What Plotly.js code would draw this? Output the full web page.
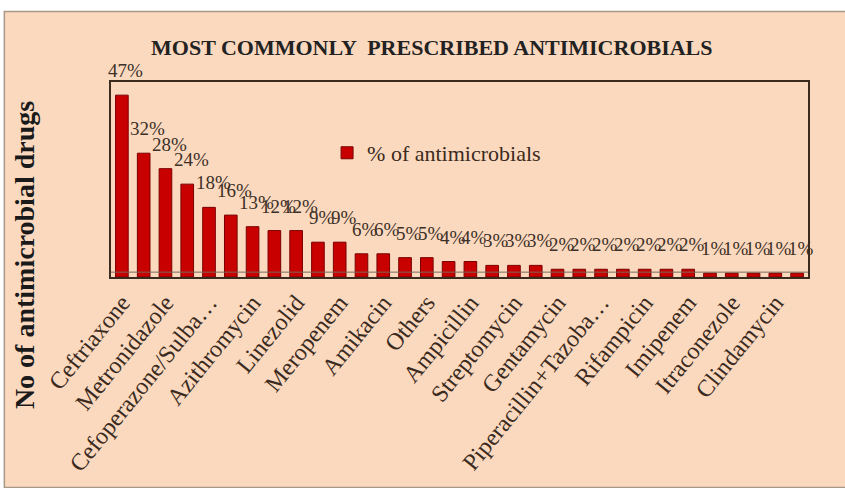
<!DOCTYPE html>
<html>
<head>
<meta charset="utf-8">
<script src="https://cdn.plot.ly/plotly-3.0.1.min.js"></script>
<style>html,body{margin:0;padding:0;background:#fff;}#chart{width:845px;height:488px;}</style>
</head>
<body>
<div id="chart"></div>
<script>
// Bar positions (1..32) and values
var positions = [1,2,3,4,5,6,7,8,9,10,11,12,13,14,15,16,17,18,19,20,21,22,23,24,25,26,27,28,29,30,31,32];
var percentValues = [47,32,28,24,18,16,13,12,12,9,9,6,6,5,5,4,4,3,3,3,2,2,2,2,2,2,2,1,1,1,1,1];
// Only every other category is labelled on the axis
var tickPositions = [1,3,5,7,9,11,13,15,17,19,21,23,25,27,29,31];
var tickLabels = ["Ceftriaxone","Metronidazole","Cefoperazone/Sulba…","Azithromycin","Linezolid","Meropenem","Amikacin","Others","Ampicillin","Streptomycin","Gentamycin","Piperacillin+Tazoba…","Rifampicin","Imipenem","Itraconezole","Clindamycin"];
var seriesName = "% of antimicrobials";
var chartTitle = "MOST COMMONLY  PRESCRIBED ANTIMICROBIALS";
var yTitle = "No of antimicrobial drugs";

var peach = "#FBD9BF";
var serif = "'Liberation Serif', 'Times New Roman', serif";

var trace = {
  type: "bar",
  x: positions,
  y: percentValues,
  name: seriesName,
  marker: {color: "#C80000", line: {color: "#7a0000", width: 1}},
  showlegend: true,
  hoverinfo: "skip"
};

var annotations = percentValues.map(function(v, i){
  return {x: positions[i], y: v, xref: "x", yref: "y", text: v + "%", showarrow: false,
          yanchor: "bottom", xanchor: "center", yshift: 12, xshift: 4,
          font: {family: serif, size: 19, color: "#3d3027"}};
});
annotations.push({xref: "paper", yref: "paper", x: -0.124, y: 0.11, text: "<b>" + yTitle + "</b>",
  textangle: -90, showarrow: false, xanchor: "center", yanchor: "middle",
  font: {family: serif, size: 28, color: "#1a1a1a"}});

var layout = {
  width: 845, height: 488,
  margin: {l: 111, r: 37, t: 82, b: 211},
  paper_bgcolor: "#ffffff",
  plot_bgcolor: peach,
  title: {text: "<b>" + chartTitle + "</b>", x: 0.511, xref: "container", y: 0.904, yref: "container",
          xanchor: "center", yanchor: "middle", font: {family: serif, size: 22, color: "#222"}},
  bargap: 0.42,
  xaxis: {range: [0.5, 32.5], tickvals: tickPositions, ticktext: tickLabels, tickangle: -51,
          showline: true, linecolor: "#3b2a1e", linewidth: 2, mirror: true, showgrid: false,
          zeroline: false, ticks: "", tickfont: {family: serif, size: 24, color: "#3a2a20"}},
  yaxis: {range: [0, 50.4], showticklabels: false, showgrid: false, zeroline: false,
          showline: true, linecolor: "#3b2a1e", linewidth: 2, mirror: true, ticks: ""},
  legend: {x: 0.31, y: 0.636, xanchor: "left", yanchor: "middle", bgcolor: "rgba(0,0,0,0)",
           font: {family: serif, size: 22, color: "#3a2a20"}, itemwidth: 30},
  shapes: [
    {type: "rect", xref: "paper", yref: "paper", x0: -0.153, x1: 1.06, y0: -1.08, y1: 1.362,
     fillcolor: peach, line: {color: "#a89888", width: 1.5}, layer: "below"},
    {type: "line", xref: "paper", yref: "paper", x0: 0, x1: 1, y0: 0.025, y1: 0.025,
     line: {color: "#7a6a5a", width: 1}, layer: "above"}
  ],
  annotations: annotations
};

Plotly.newPlot("chart", [trace], layout, {displayModeBar: false, staticPlot: true});
</script>
</body>
</html>
